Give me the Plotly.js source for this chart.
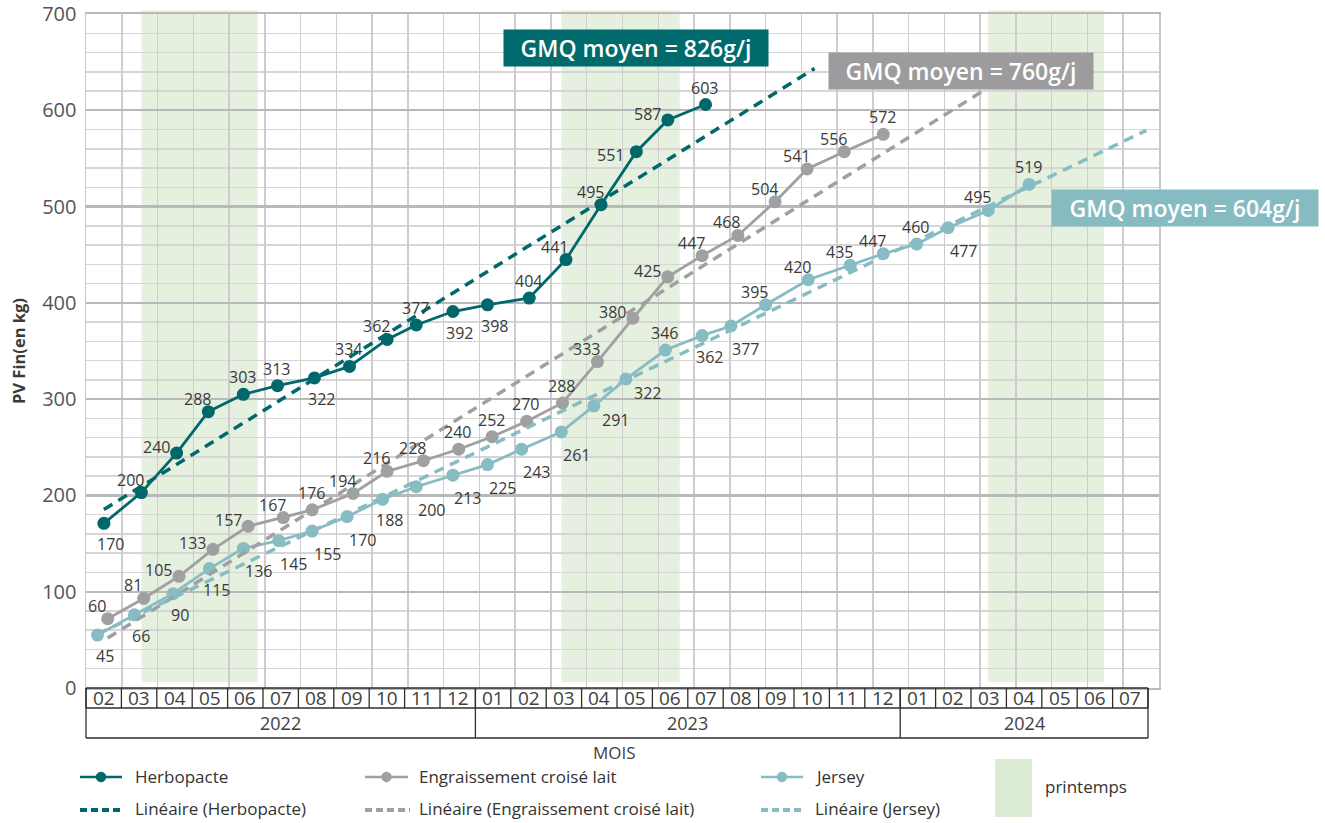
<!DOCTYPE html>
<html>
<head>
<meta charset="utf-8">
<script src="https://cdn.plot.ly/plotly-3.0.1.min.js"></script>
<style>
html,body{margin:0;padding:0;background:#ffffff;}
#chart{width:1325px;height:823px;}
</style>
</head>
<body>
<div id="chart"></div>
<script>
// ---------------- DATA ----------------
const monthLabels = ['02','03','04','05','06','07','08','09','10','11','12',
                     '01','02','03','04','05','06','07','08','09','10','11','12',
                     '01','02','03','04','05','06','07'];
const yearLabels = ['2022','2023','2024'];
const yearMonthCounts = [11, 12, 7];
const yTicks = [0, 100, 200, 300, 400, 500, 600, 700];

const seriesNames = ['Herbopacte', 'Engraissement croisé lait', 'Jersey'];
const trendNames = ['Linéaire (Herbopacte)', 'Linéaire (Engraissement croisé lait)', 'Linéaire (Jersey)'];

// weighing dates, plotted weights and printed data labels
const herboDates = ['2022-02-15','2022-03-18','2022-04-17','2022-05-14','2022-06-13','2022-07-12',
  '2022-08-13','2022-09-12','2022-10-14','2022-11-08','2022-12-09','2023-01-08','2023-02-12',
  '2023-03-14','2023-04-13','2023-05-13','2023-06-09','2023-07-11'];
const herboValues = [171,203,244,287,305,314,322,334,362,377,391,398,405,445,502,557,590,606];
const herboLabels = [170,200,240,288,303,313,322,334,362,377,392,398,404,441,495,551,587,603];

const croiseDates = ['2022-02-18','2022-03-20','2022-04-19','2022-05-18','2022-06-17','2022-07-17',
  '2022-08-11','2022-09-15','2022-10-14','2022-11-14','2022-12-14','2023-01-12','2023-02-10',
  '2023-03-11','2023-04-10','2023-05-10','2023-06-09','2023-07-08','2023-08-08','2023-09-09',
  '2023-10-06','2023-11-07','2023-12-10'];
const croiseValues = [72,93,116,144,168,177,185,202,225,236,248,261,277,296,339,384,427,449,470,505,539,557,575];
const croiseLabels = [60,81,105,133,157,167,176,194,216,228,240,252,270,288,333,380,425,447,468,504,541,556,572];

const jerseyDates = ['2022-02-10','2022-03-12','2022-04-14','2022-05-15','2022-06-13','2022-07-13',
  '2022-08-11','2022-09-10','2022-10-10','2022-11-08','2022-12-09','2023-01-08','2023-02-06',
  '2023-03-10','2023-04-07','2023-05-04','2023-06-07','2023-07-08','2023-08-02','2023-09-01',
  '2023-10-07','2023-11-12','2023-12-10','2024-01-08','2024-02-04','2024-03-08','2024-04-12'];
const jerseyValues = [55,76,98,124,145,153,163,178,196,209,221,232,248,266,293,321,351,366,376,398,424,439,451,461,478,496,523];
const jerseyLabels = [45,66,90,115,136,145,155,170,188,200,213,225,243,261,291,322,346,362,377,395,420,435,447,460,477,495,519];

const springStart = ['2022-03-18','2023-03-10','2024-03-08'];
const springEnd   = ['2022-06-25','2023-06-19','2024-06-15'];
const springLabel = 'printemps';

const gmqLabels = ['GMQ moyen = 826g/j','GMQ moyen = 760g/j','GMQ moyen = 604g/j'];

// ---------------- STYLE ----------------
const colors = ['#00676b', '#a0a0a2', '#88bcc3'];
const boxColors = ['#006a6c', '#9c9c9e', '#87bbc2'];
const springColor = '#e5f0de';
const springLegendColor = '#dbebd3';
const FONT = 'Open Sans, Noto Sans, sans-serif';
const trendForward = [3.05, 2.75, 3.28];   // months of forecast drawn past last point

// label placement codes (screen offsets in px)
const posOffsets = {T:[-1,-17], TL:[-11,-13], L:[-20,-6], L2:[-26,3], B:[7,21], BR:[15,23], R:[22,14]};
const herboPos = ['B','TL','L','TL','T','T','B','T','TL','T','B','B','T','TL','TL','L2','L','T'];
const croisePos = ['TL','TL','L','L','L','TL','T','TL','TL','TL','T','T','T','T','TL','L','L','TL','TL','TL','TL','TL','T'];
const jerseyPos = ['B','B','B','B','BR','BR','BR','BR','B','BR','BR','BR','BR','BR','R','R','T','B','BR','TL','TL','TL','TL','T','BR','TL','T'];

// ---------------- HELPERS ----------------
const PL = 86, PT = 14, PW = 1073, PH = 674;
const px2x = p => (p - PL) / PW;
const px2y = p => (PT + PH - p) / PH;

function monthIndex(d) {
  const [y, m, day] = d.split('-').map(Number);
  const dim = new Date(y, m, 0).getDate();
  return (y - 2022) * 12 + (m - 2) + (day - 1) / dim;
}
function linFit(xs, ys) {
  const n = xs.length;
  const mx = xs.reduce((a,b)=>a+b,0)/n, my = ys.reduce((a,b)=>a+b,0)/n;
  let sxy = 0, sxx = 0;
  for (let i=0;i<n;i++){ sxy += (xs[i]-mx)*(ys[i]-my); sxx += (xs[i]-mx)*(xs[i]-mx); }
  const b = sxy/sxx; return {a: my - b*mx, b};
}

const allDates = [herboDates, croiseDates, jerseyDates];
const allValues = [herboValues, croiseValues, jerseyValues];
const allLabels = [herboLabels, croiseLabels, jerseyLabels];
const allPos = [herboPos, croisePos, jerseyPos];

const traces = [];
const annotations = [];
const shapes = [];

// data series
allDates.forEach((dates, s) => {
  const xs = dates.map(monthIndex);
  const ys = allValues[s];
  traces.push({
    x: xs, y: ys, type: 'scatter', mode: 'lines+markers', name: seriesNames[s],
    line: {color: colors[s], width: 2.8}, marker: {color: colors[s], size: 13},
    hoverinfo: 'skip', showlegend: false, cliponaxis: false
  });
  ys.forEach((v, i) => {
    const off = posOffsets[allPos[s][i]];
    annotations.push({
      x: xs[i], y: v, xref: 'x', yref: 'y', text: String(allLabels[s][i]), showarrow: false,
      xshift: off[0], yshift: -off[1], xanchor: 'center', yanchor: 'middle',
      font: {family: FONT, size: 16, color: '#3a3a3a'}
    });
  });
});
// trendlines (least squares on the plotted points, extended forward)
allDates.forEach((dates, s) => {
  const xs = dates.map(monthIndex);
  const f = linFit(xs, allValues[s]);
  const x0 = xs[0], x1 = xs[xs.length-1] + trendForward[s];
  traces.push({
    x: [x0, x1], y: [f.a + f.b*x0, f.a + f.b*x1], type: 'scatter', mode: 'lines',
    name: trendNames[s], line: {color: colors[s], width: 3.5, dash: '10px,7px'},
    hoverinfo: 'skip', showlegend: false
  });
});

// spring bands
springStart.forEach((d, i) => {
  shapes.push({type: 'rect', xref: 'x', yref: 'paper', x0: monthIndex(d), x1: monthIndex(springEnd[i]),
    y0: px2y(681.7), y1: px2y(10.5), fillcolor: springColor, line: {width: 0}, layer: 'below'});
});

// month/year table under the plot
const nM = monthLabels.length;
const tableRight = px2x(1148);
const cw = tableRight / nM;
const r0 = 0, r1 = px2y(708), r2 = px2y(738);
const tcol = '#2e2e2e';
[r0, r1, r2].forEach(yv => shapes.push({type:'line', xref:'paper', yref:'paper', x0:0, x1:tableRight, y0:yv, y1:yv, line:{color:tcol, width:1.3}}));
for (let i = 0; i <= nM; i++) {
  shapes.push({type:'line', xref:'paper', yref:'paper', x0:i*cw, x1:i*cw, y0:r0, y1:r1, line:{color:tcol, width:1.3}});
}
monthLabels.forEach((m, i) => {
  annotations.push({x:(i+0.5)*cw, y:(r0+r1)/2, xref:'paper', yref:'paper', text:m, showarrow:false,
    xanchor:'center', yanchor:'middle', font:{family:FONT, size:19, color:'#404040'}});
});
let acc = 0;
shapes.push({type:'line', xref:'paper', yref:'paper', x0:0, x1:0, y0:r0, y1:r2, line:{color:tcol, width:1.3}});
yearLabels.forEach((yl, i) => {
  const start = acc; acc += yearMonthCounts[i];
  shapes.push({type:'line', xref:'paper', yref:'paper', x0:acc*cw, x1:acc*cw, y0:r0, y1:r2, line:{color:tcol, width:1.3}});
  annotations.push({x:(start+acc)/2*cw, y:(r1+r2)/2, xref:'paper', yref:'paper', text:yl, showarrow:false,
    xanchor:'center', yanchor:'middle', font:{family:FONT, size:18, color:'#404040'}});
});

// axis titles
annotations.push({x: px2x(614), y: px2y(752), xref:'paper', yref:'paper', text:'MOIS', showarrow:false,
  xanchor:'center', yanchor:'middle', font:{family:FONT, size:17, color:'#404040'}});
annotations.push({x: px2x(18), y: 0.5, xref:'paper', yref:'paper', text:'PV Fin(en kg)', showarrow:false,
  textangle:-90, xanchor:'center', yanchor:'middle', font:{family:FONT, size:16.5, color:'#3a3a3a', weight:700}});

// GMQ boxes
const gmqBox = [[635.5, 48, 264], [960.5, 71, 264], [1184.5, 208, 266]];
gmqLabels.forEach((t, i) => {
  annotations.push({x: px2x(gmqBox[i][0]), y: px2y(gmqBox[i][1]), xref:'paper', yref:'paper', text:t,
    showarrow:false, xanchor:'center', yanchor:'middle', bgcolor: boxColors[i], borderpad:0,
    width: gmqBox[i][2], height: 36, align:'center',
    font:{family:FONT, size:23, color:'#ffffff', weight:600}});
});

// custom legend
const legCols = [[80,122,133],[365,408,417],[761,803,813]];
const rowY = [777, 810];
legCols.forEach((c, s) => {
  shapes.push({type:'line', xref:'paper', yref:'paper', x0:px2x(c[0]), x1:px2x(c[1]), y0:px2y(rowY[0]), y1:px2y(rowY[0]), line:{color:colors[s], width:2.5}});
  const cx = (c[0]+c[1])/2, r = 4.8;
  shapes.push({type:'circle', xref:'paper', yref:'paper', x0:px2x(cx-r), x1:px2x(cx+r), y0:px2y(rowY[0]+r), y1:px2y(rowY[0]-r), fillcolor:colors[s], line:{color:colors[s], width:1}});
  annotations.push({x:px2x(c[2]), y:px2y(rowY[0]-1), xref:'paper', yref:'paper', text:seriesNames[s], showarrow:false,
    xanchor:'left', yanchor:'middle', font:{family:FONT, size:17, color:'#333333'}});
  shapes.push({type:'line', xref:'paper', yref:'paper', x0:px2x(c[0]), x1:px2x(c[1]+2), y0:px2y(rowY[1]), y1:px2y(rowY[1]), line:{color:colors[s], width:4, dash:'7px,4px'}});
  annotations.push({x:px2x(c[2]), y:px2y(rowY[1]-2), xref:'paper', yref:'paper', text:trendNames[s], showarrow:false,
    xanchor:'left', yanchor:'middle', font:{family:FONT, size:17, color:'#333333'}});
});
shapes.push({type:'rect', xref:'paper', yref:'paper', x0:px2x(995), x1:px2x(1032), y0:px2y(817), y1:px2y(759), fillcolor:springLegendColor, line:{width:0}});
annotations.push({x:px2x(1043), y:px2y(786), xref:'paper', yref:'paper', text:springLabel, showarrow:false,
  xanchor:'left', yanchor:'middle', font:{family:FONT, size:17, color:'#333333'}});

const layout = {
  width: 1325, height: 823,
  margin: {l: PL, r: 1325 - PL - PW, t: PT, b: 823 - PT - PH, pad: 0},
  paper_bgcolor: '#ffffff', plot_bgcolor: 'rgba(0,0,0,0)',
  showlegend: false, hovermode: false,
  font: {family: FONT},
  xaxis: {range: [0, nM], tick0: 0, dtick: 1, showticklabels: false, ticks: '',
    showgrid: true, gridcolor: '#cdcdcd', gridwidth: 1.5, zeroline: false,
    showline: true, mirror: true, linecolor: '#b9b9b9', linewidth: 2.2, fixedrange: true},
  yaxis: {range: [0, 700], tickmode: 'array', tickvals: yTicks, ticktext: yTicks.map(String),
    ticks: '', ticklabelstandoff: 4, ticklabeloverflow: 'allow',
    tickfont: {family: FONT, size: 20, color: '#555555'},
    showgrid: true, gridcolor: '#b9b9b9', gridwidth: 2.2,
    minor: {tickmode: 'linear', tick0: 0, dtick: 20, showgrid: true, gridcolor: '#d6d6d6', gridwidth: 1.5},
    zeroline: false, showline: true, mirror: true, linecolor: '#c8c8c8', linewidth: 1.5, fixedrange: true},
  shapes: shapes,
  annotations: annotations
};

Plotly.newPlot('chart', traces, layout, {displayModeBar: false, staticPlot: true});
</script>
</body>
</html>
